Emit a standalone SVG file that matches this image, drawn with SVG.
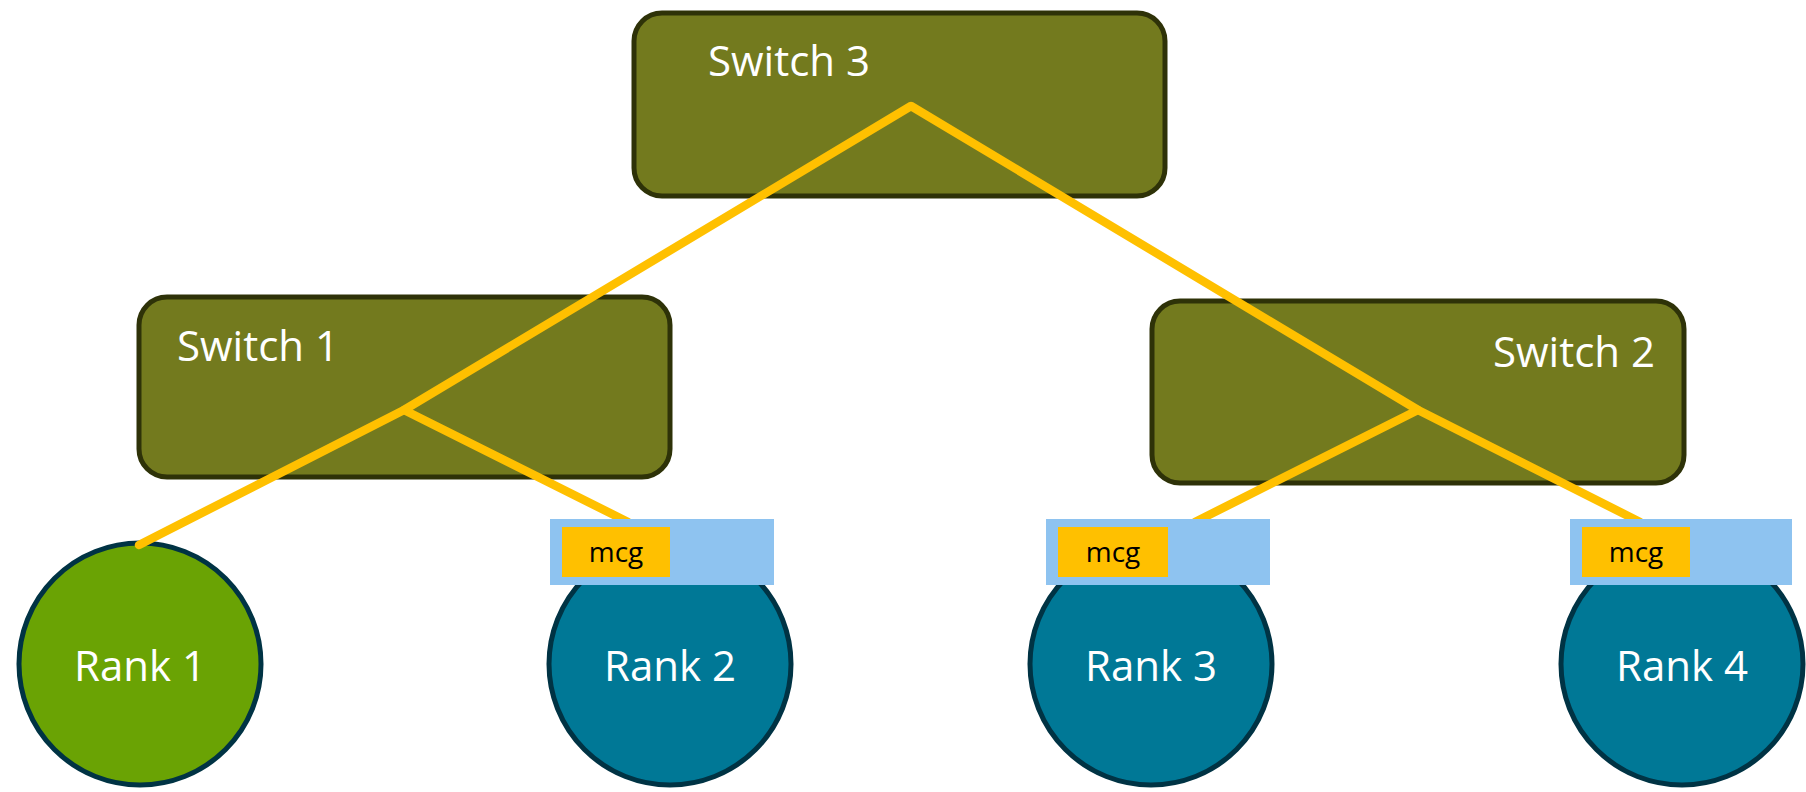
<svg xmlns="http://www.w3.org/2000/svg" width="1806" height="792" viewBox="0 0 1806 792">
<defs>
<style>
.sw{fill:#737A1E;stroke:#2E3208;stroke-width:5}
.swt{font-family:"Open Sans","Liberation Sans",sans-serif;font-size:42px;fill:#ffffff}
.rk{stroke:#003344;stroke-width:5}
.r1{fill:#6AA304}
.rn{fill:#007896}
.rt{font-family:"Open Sans","Liberation Sans",sans-serif;font-size:42px;fill:#ffffff;text-anchor:middle}
.box{fill:#8EC3F0}
.tag{fill:#FFC000}
.tagt{font-family:"Open Sans","Liberation Sans",sans-serif;font-size:28px;fill:#000000;text-anchor:middle}
.ln{fill:none;stroke:#FFC000;stroke-width:8.5;stroke-linecap:round;stroke-linejoin:round}
</style>
</defs>
<rect width="1806" height="792" fill="#ffffff"/>
<g id="switch3"><rect class="sw" x="634" y="13" width="531" height="183" rx="28"/><text class="swt" x="708" y="76">Switch 3</text></g>
<g id="switch1"><rect class="sw" x="139" y="297" width="531" height="180" rx="28"/><text class="swt" x="177" y="361">Switch 1</text></g>
<g id="switch2"><rect class="sw" x="1152" y="301" width="532" height="182" rx="28"/><text class="swt" x="1655" y="367" text-anchor="end">Switch 2</text></g>
<g id="rank1"><circle class="rk r1" cx="140" cy="664" r="121"/><text class="rt" x="140" y="681">Rank 1</text></g>
<g id="rank2"><circle class="rk rn" cx="670" cy="664" r="121"/><text class="rt" x="670" y="681">Rank 2</text></g>
<g id="rank3"><circle class="rk rn" cx="1151" cy="664" r="121"/><text class="rt" x="1151" y="681">Rank 3</text></g>
<g id="rank4"><circle class="rk rn" cx="1682" cy="664" r="121"/><text class="rt" x="1682" y="681">Rank 4</text></g>
<g id="connectors">
<polyline class="ln" points="139,545 404,410 911,106 1418,410 1640,522"/>
<polyline class="ln" points="404,410 628,522"/>
<polyline class="ln" points="1418,410 1195,522"/>
</g>
<g id="mcg2"><rect class="box" x="550" y="519" width="224" height="66"/><rect class="tag" x="562" y="527" width="108" height="50"/><text class="tagt" x="616" y="562">mcg</text></g>
<g id="mcg3"><rect class="box" x="1046" y="519" width="224" height="66"/><rect class="tag" x="1058" y="527" width="110" height="50"/><text class="tagt" x="1113" y="562">mcg</text></g>
<g id="mcg4"><rect class="box" x="1570" y="519" width="222" height="66"/><rect class="tag" x="1582" y="527" width="108" height="50"/><text class="tagt" x="1636" y="562">mcg</text></g>
</svg>
